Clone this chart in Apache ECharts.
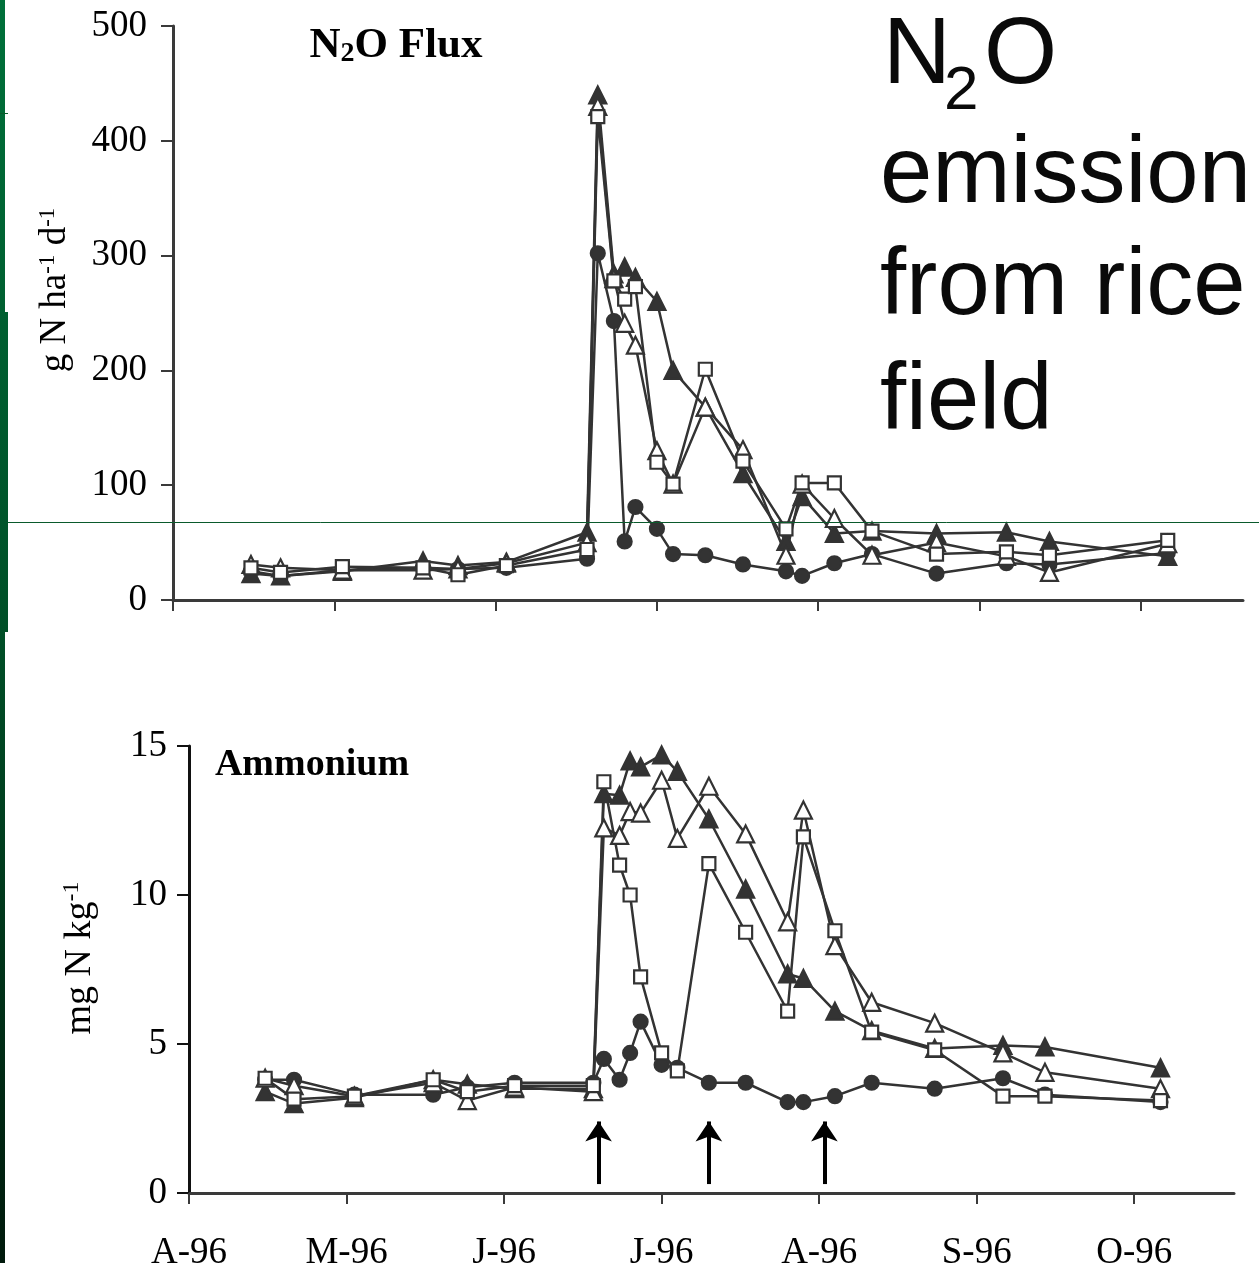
<!DOCTYPE html>
<html>
<head>
<meta charset="utf-8">
<script src="https://cdn.jsdelivr.net/npm/echarts@6/dist/echarts.min.js"></script>
<style>
  html, body { margin: 0; padding: 0; background: #fff; }
  #chart { width: 1259px; height: 1263px; }
</style>
</head>
<body>
<div id="chart"></div>
<script>
// sampling dates, as days after 1 April 1996 (same dates in both panels)
const sampleDays = [14.5, 20, 31.5, 46.5, 53, 62, 77, 79, 82, 84, 86, 90, 93, 99, 106, 114, 117, 123, 130, 142, 155, 163, 185];
const monthTicks = [0, 30, 60, 90, 120, 150, 180];
const monthLabels = ['A-96', 'M-96', 'J-96', 'J-96', 'A-96', 'S-96', 'O-96'];
const fertDays = [78, 99, 121];

// N2O flux (g N ha-1 d-1)
const fluxCircle  = [25, 21, 26, 28, 27, 28, 36, 302, 243, 51, 81, 62, 40, 39, 31, 25, 21, 32, 40, 23, 32, 31, 41];
const fluxSquare  = [28, 24, 29, 28, 22, 30, 44, 421, 278, 262, 273, 120, 101, 201, 121, 62, 102, 102, 60, 40, 42, 39, 52];
const fluxTriOpen = [31, 28, 26, 26, 27, 32, 50, 430, 280, 241, 222, 130, 101, 168, 131, 39, 101, 71, 39, 50, 38, 24, 49];
const fluxTriFill = [23, 21, 25, 34, 30, 33, 59, 440, 284, 290, 281, 260, 200, 168, 110, 51, 90, 58, 60, 58, 59, 51, 38];

// Ammonium (mg N kg-1)
const nh4Circle  = [3.8, 3.8, 3.3, 3.3, 3.55, 3.7, 3.7, 4.5, 3.8, 4.7, 5.75, 4.3, 4.2, 3.7, 3.7, 3.05, 3.05, 3.25, 3.7, 3.5, 3.85, 3.3, 3.05];
const nh4Square  = [3.85, 3.15, 3.25, 3.8, 3.4, 3.6, 3.6, 13.8, 11.0, 10.0, 7.25, 4.7, 4.1, 11.05, 8.75, 6.1, 11.95, 8.8, 5.4, 4.8, 3.25, 3.25, 3.1];
const nh4TriOpen = [3.85, 3.6, 3.25, 3.7, 3.1, 3.55, 3.4, 12.25, 12.0, 12.8, 12.75, 13.85, 11.9, 13.65, 12.05, 9.1, 12.85, 8.3, 6.4, 5.7, 4.7, 4.05, 3.5];
const nh4TriFill = [3.4, 3.0, 3.2, 3.8, 3.65, 3.5, 3.5, 13.4, 13.35, 14.5, 14.3, 14.7, 14.15, 12.55, 10.2, 7.35, 7.2, 6.1, 5.45, 4.85, 4.95, 4.9, 4.2];

const serif = "'Liberation Serif', 'Times New Roman', serif";
const sans = "'Liberation Sans', Arial, sans-serif";
const ink = '#333';

const markers = {
  circle:  { symbol: 'circle', size: 14, fill: ink },
  square:  { symbol: 'rect', size: 13, fill: '#fff' },
  triOpen: { symbol: 'triangle', size: 17, fill: '#fff' },
  triFill: { symbol: 'triangle', size: 17, fill: ink }
};

function lineSeries(name, values, kind, gi) {
  const m = markers[kind];
  return {
    name: name, type: 'line', xAxisIndex: gi, yAxisIndex: gi,
    data: sampleDays.map((d, i) => [d, values[i]]),
    symbol: m.symbol, symbolSize: m.size,
    lineStyle: { color: ink, width: 2.5 },
    itemStyle: { color: m.fill, borderColor: ink, borderWidth: 2.2 },
    emphasis: { disabled: true }
  };
}

function xAxisFor(gi, showLabels) {
  return {
    type: 'value', gridIndex: gi, min: 0, max: 199,
    axisLine: { lineStyle: { color: '#3a3a3a', width: 3 } },
    axisTick: { length: 11, customValues: monthTicks, lineStyle: { color: '#3a3a3a', width: 2 } },
    axisLabel: {
      show: showLabels, customValues: monthTicks, margin: 42,
      formatter: v => monthLabels[monthTicks.indexOf(v)],
      fontFamily: serif, fontSize: 37, color: '#000'
    },
    splitLine: { show: false }
  };
}

function yAxisFor(gi, max, step, lineColor, margin) {
  return {
    type: 'value', gridIndex: gi, min: 0, max: max, interval: step,
    axisLine: { show: true, lineStyle: { color: lineColor, width: 3 } },
    axisTick: { show: true, length: 12, lineStyle: { color: lineColor, width: 2 } },
    axisLabel: { margin: margin, fontFamily: serif, fontSize: 37, color: '#000' },
    splitLine: { show: false }
  };
}

const fluxSeries = [
  lineSeries('circle', fluxCircle, 'circle', 0),
  lineSeries('filled triangle', fluxTriFill, 'triFill', 0),
  lineSeries('open triangle', fluxTriOpen, 'triOpen', 0),
  lineSeries('square', fluxSquare, 'square', 0)
];
const nh4Series = [
  lineSeries('circle', nh4Circle, 'circle', 1),
  lineSeries('filled triangle', nh4TriFill, 'triFill', 1),
  lineSeries('open triangle', nh4TriOpen, 'triOpen', 1),
  lineSeries('square', nh4Square, 'square', 1)
];
// fertiliser applications
nh4Series[0].markLine = {
  silent: true, symbol: ['none', 'arrow'], symbolSize: 20,
  lineStyle: { color: '#000', width: 4, type: 'solid' },
  label: { show: false },
  data: fertDays.map(d => [{ coord: [d, 0.3] }, { coord: [d, 2.4] }])
};

// left edge band, gradient over the whole page height
const greenBar = new echarts.graphic.LinearGradient(0, 0, 0, 1263, [
  { offset: 0, color: '#00703a' },
  { offset: 0.5, color: '#004f27' },
  { offset: 1, color: '#001a0c' }
], true);

const chart = echarts.init(document.getElementById('chart'));
chart.setOption({
  animation: false,
  backgroundColor: '#fff',
  grid: [
    { left: 173, top: 26, width: 1070, height: 574, outerBoundsMode: 'none' },
    { left: 189, top: 746, width: 1045, height: 447, outerBoundsMode: 'none' }
  ],
  xAxis: [xAxisFor(0, false), xAxisFor(1, true)],
  yAxis: [yAxisFor(0, 500, 100, '#3a3a3a', 26), yAxisFor(1, 15, 5, '#111', 22)],
  series: fluxSeries.concat(nh4Series),
  graphic: [
    { type: 'rect', shape: { x: 0, y: 0, width: 5, height: 1263 }, style: { fill: greenBar } },
    { type: 'rect', shape: { x: 0, y: 312, width: 8, height: 320 }, style: { fill: greenBar } },
    { type: 'line', shape: { x1: 0, y1: 113.5, x2: 8, y2: 113.5 }, style: { stroke: '#0a5a2c', lineWidth: 1 } },
    { type: 'line', z: 100, shape: { x1: 8, y1: 522.5, x2: 1259, y2: 522.5 }, style: { stroke: '#0a5a2c', lineWidth: 1 } },
    // panel titles
    { type: 'text', x: 396, y: 46, style: {
        text: '{a|N}{s|2}{a|O Flux}', align: 'center', verticalAlign: 'middle',
        rich: {
          a: { fontFamily: serif, fontWeight: 'bold', fontSize: 43, lineHeight: 43, fill: '#000' },
          s: { fontFamily: serif, fontWeight: 'bold', fontSize: 28, lineHeight: 14, verticalAlign: 'bottom', fill: '#000' }
        } } },
    { type: 'text', x: 312, y: 765, style: {
        text: 'Ammonium', align: 'center', verticalAlign: 'middle',
        fontFamily: serif, fontWeight: 'bold', fontSize: 38, fill: '#000' } },
    // axis names
    { type: 'text', x: 55, y: 290, rotation: Math.PI / 2, style: {
        text: '{a|g N ha}{s|-1}{a| d}{s|-1}', align: 'center', verticalAlign: 'middle',
        rich: {
          a: { fontFamily: serif, fontSize: 37, lineHeight: 38, fill: '#000' },
          s: { fontFamily: serif, fontSize: 23, lineHeight: 14, verticalAlign: 'top', fill: '#000' }
        } } },
    { type: 'text', x: 80, y: 958, rotation: Math.PI / 2, style: {
        text: '{a|mg N kg}{s|-1}', align: 'center', verticalAlign: 'middle',
        rich: {
          a: { fontFamily: serif, fontSize: 38, lineHeight: 40, fill: '#000' },
          s: { fontFamily: serif, fontSize: 24, lineHeight: 14, verticalAlign: 'top', fill: '#000' }
        } } },
    // slide heading
    { type: 'text', x: 883, y: 57, style: { text: 'N', fontFamily: sans, fontSize: 94, fill: '#0a0a0a', verticalAlign: 'middle' } },
    { type: 'text', x: 944, y: 92, style: { text: '2', fontFamily: sans, fontSize: 62, fill: '#0a0a0a', verticalAlign: 'middle' } },
    { type: 'text', x: 984, y: 57, style: { text: 'O', fontFamily: sans, fontSize: 94, fill: '#0a0a0a', verticalAlign: 'middle' } },
    { type: 'text', x: 880, y: 176, style: { text: 'emission', fontFamily: sans, fontSize: 94, fill: '#0a0a0a', verticalAlign: 'middle' } },
    { type: 'text', x: 880, y: 288, style: { text: 'from rice', fontFamily: sans, fontSize: 94, fill: '#0a0a0a', verticalAlign: 'middle' } },
    { type: 'text', x: 880, y: 403, style: { text: 'field', fontFamily: sans, fontSize: 94, fill: '#0a0a0a', verticalAlign: 'middle' } }
  ]
});
</script>
</body>
</html>
